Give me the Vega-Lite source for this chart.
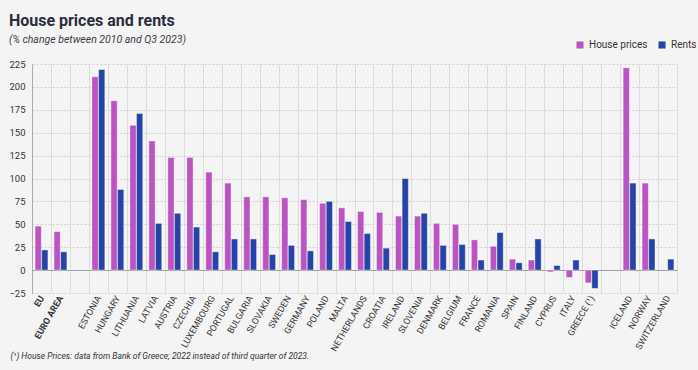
{
  "$schema": "https://vega.github.io/schema/vega-lite/v6.json",
  "width": 645,
  "height": 229,
  "autosize": "none",
  "padding": {"left": 32, "top": 64, "right": 21, "bottom": 77},
  "background": "#f4f4f4",
  "title": {
    "text": "House prices and rents",
    "subtitle": "(% change between 2010 and Q3 2023)",
    "anchor": "start",
    "font": "Roboto",
    "fontSize": 16,
    "fontWeight": "bold",
    "color": "#2b2d3c",
    "subtitleFont": "Roboto",
    "subtitleFontStyle": "italic",
    "subtitleFontSize": 10.5,
    "subtitleColor": "#3a3a44",
    "subtitlePadding": 6,
    "offset": -5
  },
  "config": {
    "view": {"stroke": null},
    "font": "Roboto"
  },
  "data": {
    "values": [
      {"country": "EU", "measure": "House prices", "value": 48},
      {"country": "EU", "measure": "Rents", "value": 22},
      {"country": "EURO AREA", "measure": "House prices", "value": 42},
      {"country": "EURO AREA", "measure": "Rents", "value": 20},
      {"country": "ESTONIA", "measure": "House prices", "value": 211},
      {"country": "ESTONIA", "measure": "Rents", "value": 219},
      {"country": "HUNGARY", "measure": "House prices", "value": 185},
      {"country": "HUNGARY", "measure": "Rents", "value": 88},
      {"country": "LITHUANIA", "measure": "House prices", "value": 158},
      {"country": "LITHUANIA", "measure": "Rents", "value": 171},
      {"country": "LATVIA", "measure": "House prices", "value": 141},
      {"country": "LATVIA", "measure": "Rents", "value": 51},
      {"country": "AUSTRIA", "measure": "House prices", "value": 123},
      {"country": "AUSTRIA", "measure": "Rents", "value": 62},
      {"country": "CZECHIA", "measure": "House prices", "value": 123},
      {"country": "CZECHIA", "measure": "Rents", "value": 47},
      {"country": "LUXEMBOURG", "measure": "House prices", "value": 107},
      {"country": "LUXEMBOURG", "measure": "Rents", "value": 20},
      {"country": "PORTUGAL", "measure": "House prices", "value": 95},
      {"country": "PORTUGAL", "measure": "Rents", "value": 34},
      {"country": "BULGARIA", "measure": "House prices", "value": 80},
      {"country": "BULGARIA", "measure": "Rents", "value": 34},
      {"country": "SLOVAKIA", "measure": "House prices", "value": 80},
      {"country": "SLOVAKIA", "measure": "Rents", "value": 17},
      {"country": "SWEDEN", "measure": "House prices", "value": 79},
      {"country": "SWEDEN", "measure": "Rents", "value": 27},
      {"country": "GERMANY", "measure": "House prices", "value": 77},
      {"country": "GERMANY", "measure": "Rents", "value": 21},
      {"country": "POLAND", "measure": "House prices", "value": 73},
      {"country": "POLAND", "measure": "Rents", "value": 75},
      {"country": "MALTA", "measure": "House prices", "value": 68},
      {"country": "MALTA", "measure": "Rents", "value": 53},
      {"country": "NETHERLANDS", "measure": "House prices", "value": 64},
      {"country": "NETHERLANDS", "measure": "Rents", "value": 40},
      {"country": "CROATIA", "measure": "House prices", "value": 63},
      {"country": "CROATIA", "measure": "Rents", "value": 24},
      {"country": "IRELAND", "measure": "House prices", "value": 59},
      {"country": "IRELAND", "measure": "Rents", "value": 100},
      {"country": "SLOVENIA", "measure": "House prices", "value": 59},
      {"country": "SLOVENIA", "measure": "Rents", "value": 62},
      {"country": "DENMARK", "measure": "House prices", "value": 51},
      {"country": "DENMARK", "measure": "Rents", "value": 27},
      {"country": "BELGIUM", "measure": "House prices", "value": 50},
      {"country": "BELGIUM", "measure": "Rents", "value": 28},
      {"country": "FRANCE", "measure": "House prices", "value": 33},
      {"country": "FRANCE", "measure": "Rents", "value": 11},
      {"country": "ROMANIA", "measure": "House prices", "value": 26},
      {"country": "ROMANIA", "measure": "Rents", "value": 41},
      {"country": "SPAIN", "measure": "House prices", "value": 12},
      {"country": "SPAIN", "measure": "Rents", "value": 8},
      {"country": "FINLAND", "measure": "House prices", "value": 11},
      {"country": "FINLAND", "measure": "Rents", "value": 34},
      {"country": "CYPRUS", "measure": "House prices", "value": -2},
      {"country": "CYPRUS", "measure": "Rents", "value": 5},
      {"country": "ITALY", "measure": "House prices", "value": -8},
      {"country": "ITALY", "measure": "Rents", "value": 11},
      {"country": "GREECE (¹)", "measure": "House prices", "value": -14},
      {"country": "GREECE (¹)", "measure": "Rents", "value": -20},
      {"country": "ICELAND", "measure": "House prices", "value": 221},
      {"country": "ICELAND", "measure": "Rents", "value": 95},
      {"country": "NORWAY", "measure": "House prices", "value": 95},
      {"country": "NORWAY", "measure": "Rents", "value": 34},
      {"country": "SWITZERLAND", "measure": "Rents", "value": 12}
    ]
  },
  "mark": {"type": "bar", "stroke": "#ffffff", "strokeWidth": 0.6, "strokeOpacity": 0.7},
  "encoding": {
    "x": {
      "field": "country",
      "type": "nominal",
      "scale": {
        "domain": ["EU", "EURO AREA", " ", "ESTONIA", "HUNGARY", "LITHUANIA", "LATVIA", "AUSTRIA", "CZECHIA", "LUXEMBOURG", "PORTUGAL", "BULGARIA", "SLOVAKIA", "SWEDEN", "GERMANY", "POLAND", "MALTA", "NETHERLANDS", "CROATIA", "IRELAND", "SLOVENIA", "DENMARK", "BELGIUM", "FRANCE", "ROMANIA", "SPAIN", "FINLAND", "CYPRUS", "ITALY", "GREECE (¹)", "  ", "ICELAND", "NORWAY", "SWITZERLAND"],
        "paddingInner": 0,
        "paddingOuter": 0
      },
      "axis": {
        "title": "(¹) House Prices: data from Bank of Greece; 2022 instead of third quarter of 2023.",
        "titleFont": "Roboto",
        "titleFontSize": 8.5,
        "titleFontStyle": "italic",
        "titleFontWeight": "normal",
        "titleColor": "#333333",
        "titleAnchor": "start",
        "titleAlign": "left",
        "titleBaseline": "alphabetic",
        "titleX": -22,
        "titleY": 65,
        "labelAngle": -60,
        "labelAlign": "right",
        "labelBaseline": "middle",
        "labelFont": "Roboto",
        "labelFontSize": 9,
        "labelColor": "#333333",
        "labelPadding": 3,
        "labelFontWeight": {"condition": {"test": "datum.value == 'EU' || datum.value == 'EURO AREA'", "value": "bold"}, "value": "normal"},
        "ticks": false,
        "domain": false,
        "grid": true,
        "gridColor": "#dcdcdc",
        "gridWidth": 1,
        "tickBand": "extent"
      }
    },
    "xOffset": {
      "field": "measure",
      "type": "nominal",
      "sort": ["House prices", "Rents"],
      "scale": {"paddingInner": 0.05, "paddingOuter": 0.46}
    },
    "y": {
      "field": "value",
      "type": "quantitative",
      "scale": {"domain": [-25, 225], "nice": false},
      "axis": {
        "title": null,
        "values": [-25, 0, 25, 50, 75, 100, 125, 150, 175, 200, 225],
        "labelFont": "Roboto",
        "labelFontSize": 9.5,
        "labelColor": "#333333",
        "labelPadding": 7,
        "ticks": false,
        "domain": true,
        "domainColor": "#aaaaaa",
        "grid": true,
        "gridColor": {"condition": {"test": "datum.value === 0", "value": "#a0a0a0"}, "value": "#cfcfcf"},
        "gridDash": {"condition": {"test": "datum.value === 0", "value": []}, "value": [2, 2]}
      }
    },
    "color": {
      "field": "measure",
      "type": "nominal",
      "sort": ["House prices", "Rents"],
      "scale": {"domain": ["House prices", "Rents"], "range": ["#b954c1", "#2643a6"]},
      "legend": {
        "title": null,
        "orient": "none",
        "legendX": 543,
        "legendY": -24,
        "direction": "horizontal",
        "symbolType": "square",
        "symbolSize": 50,
        "symbolStrokeWidth": 0,
        "labelFont": "Roboto",
        "labelFontSize": 10,
        "labelColor": "#333333",
        "columnPadding": 9
      }
    }
  }
}
